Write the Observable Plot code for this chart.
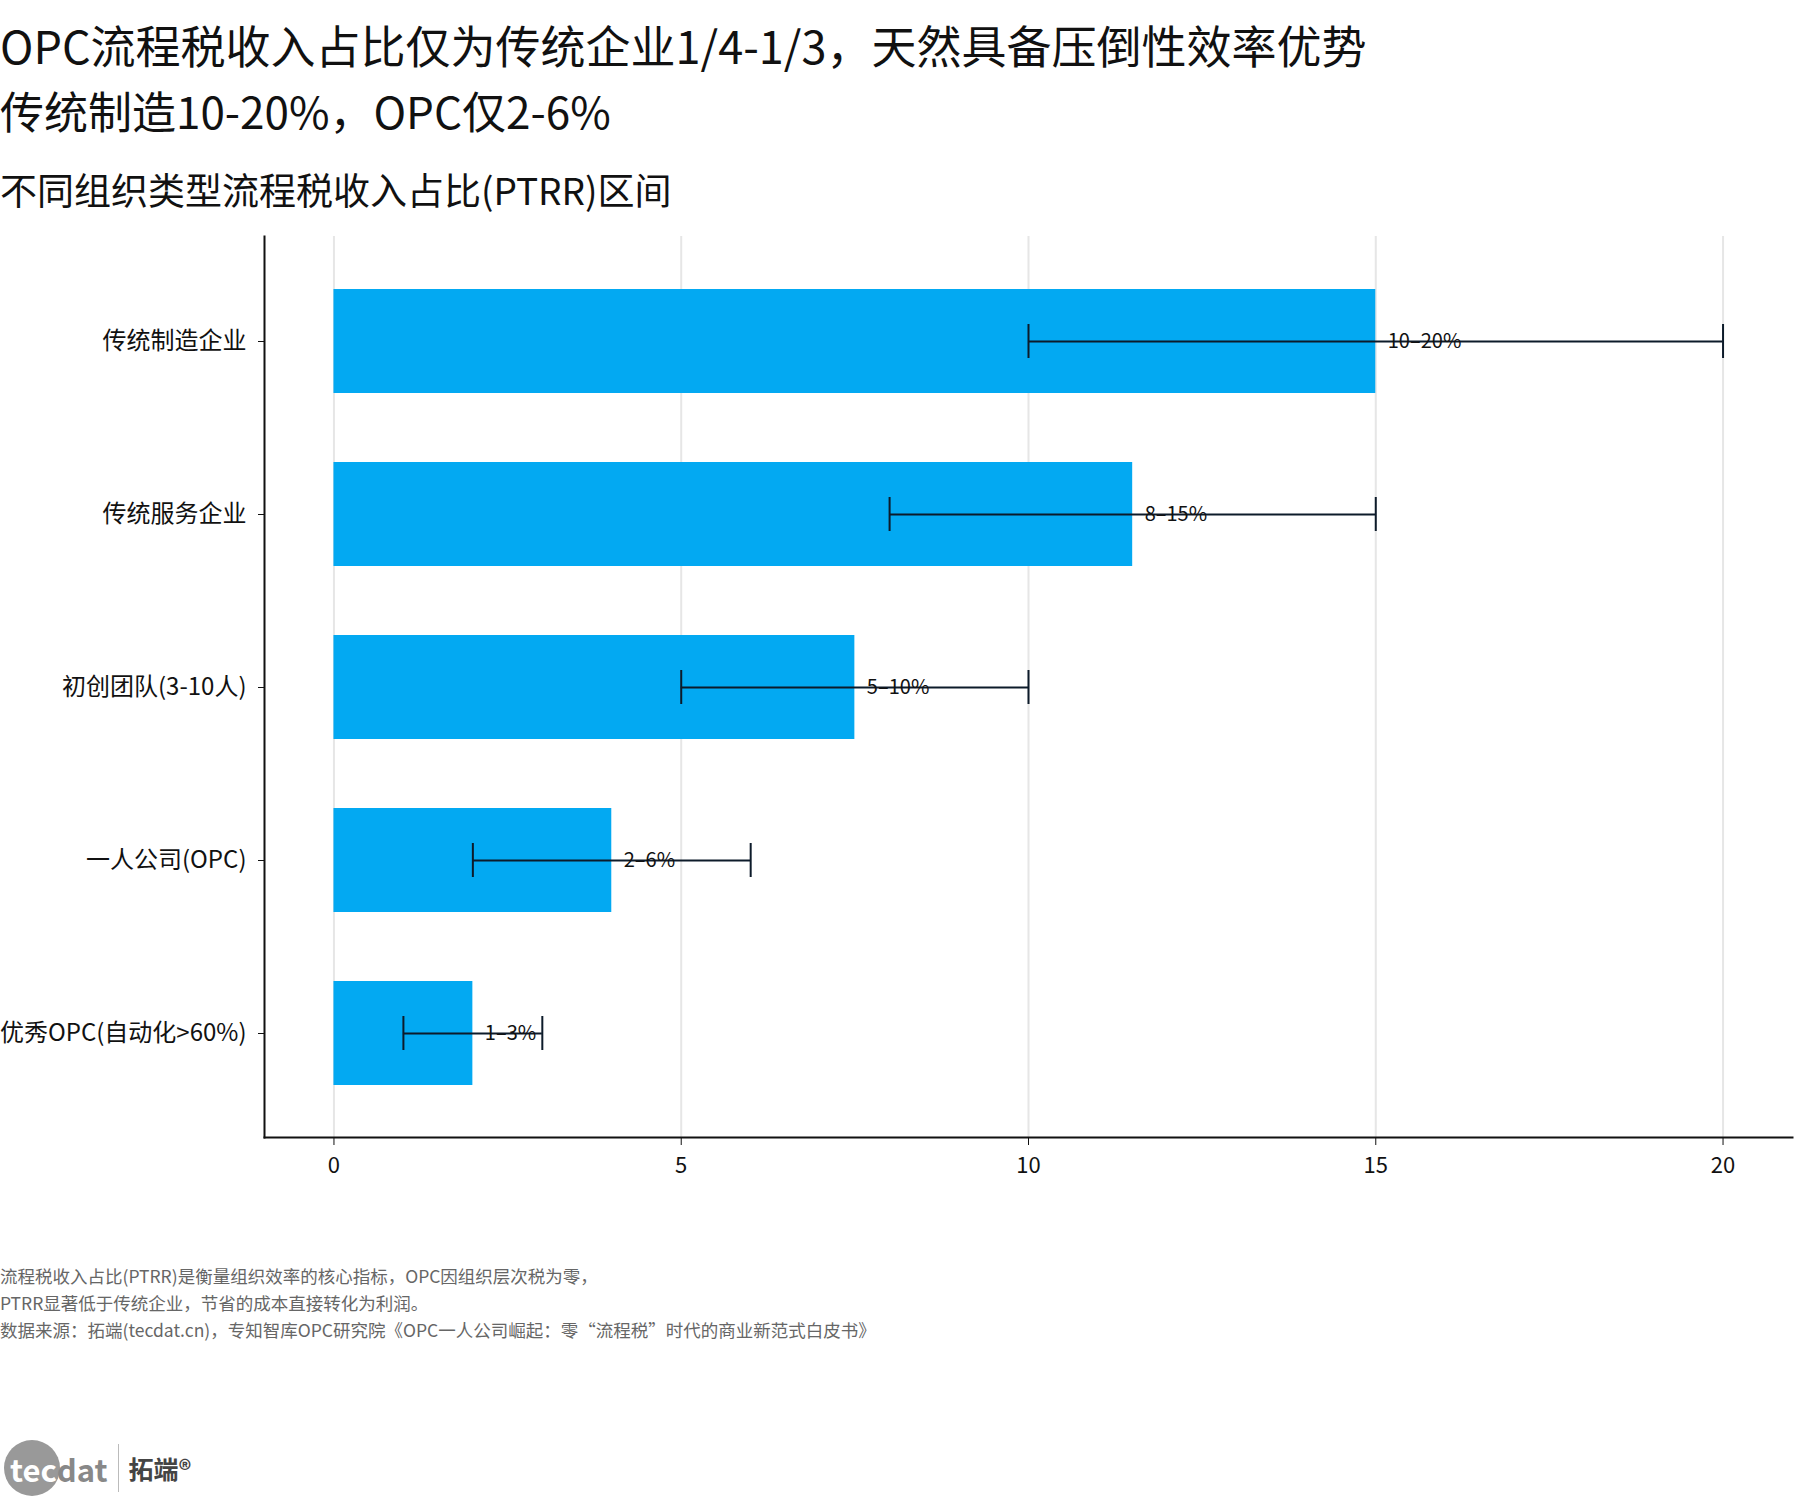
<!DOCTYPE html>
<html><head><meta charset="utf-8">
<script src="https://cdn.jsdelivr.net/npm/d3@7"></script>
<script src="https://cdn.jsdelivr.net/npm/@observablehq/plot@0.6"></script>
<style>
body{margin:0;background:#fff;font-family:"Noto Sans CJK SC","Noto Sans",sans-serif;color:#111;}
#wrap{position:relative;width:1800px;height:1500px;}
.t{position:absolute;left:0;white-space:nowrap;}
</style></head>
<body><div id="wrap">
<div class="t" style="top:12px;font-size:45px;">OPC流程税收入占比仅为传统企业1/4-1/3，天然具备压倒性效率优势</div>
<div class="t" style="top:78px;font-size:44px;">传统制造10-20%，OPC仅2-6%</div>
<div class="t" style="top:162px;font-size:37px;">不同组织类型流程税收入占比(PTRR)区间</div>
<div id="chart" style="position:absolute;top:197px;left:-3px;"></div>
<div class="t" style="top:1262px;font-size:17.5px;color:#666;line-height:27px;">流程税收入占比(PTRR)是衡量组织效率的核心指标，OPC因组织层次税为零，<br>PTRR显著低于传统企业，节省的成本直接转化为利润。<br>数据来源：拓端(tecdat.cn)，专知智库OPC研究院《OPC一人公司崛起：零“流程税”时代的商业新范式白皮书》</div>
<div class="t" style="top:1440px;left:4px;display:flex;align-items:center;">
  <span style="display:inline-block;width:56px;height:56px;border-radius:50%;background:#999;"></span>
  <span style="margin-left:-50px;font-size:31px;color:#fff;font-weight:bold;">tec</span><span style="font-size:31px;color:#888;font-weight:bold;">dat</span>
  <span style="display:inline-block;width:1px;height:48px;background:#bbb;margin:0 10px;"></span>
  <span style="font-size:25px;font-weight:bold;color:#444;">拓端®</span>
</div>
</div>
<script>
const categories=["传统制造企业","传统服务企业","初创团队(3-10人)","一人公司(OPC)","优秀OPC(自动化>60%)"];
const values=[15,11.5,7.5,4,2];
const lows=[10,8,5,2,1];
const highs=[20,15,10,6,3];
const labels=["10–20%","8–15%","5–10%","2–6%","1–3%"];
const data=categories.map((c,i)=>({name:c,value:values[i],lo:lows[i],hi:highs[i],label:labels[i]}));
const chart=Plot.plot({
  width:1800,height:1020,marginTop:39,marginBottom:80,marginLeft:267,marginRight:5,
  style:{fontFamily:"'Noto Sans CJK SC',sans-serif",fontSize:"22px",color:"#111"},
  x:{domain:[-1,21],ticks:[0,5,10,15,20],label:null,grid:false},
  y:{domain:categories,paddingInner:0.4,paddingOuter:0.2,insetTop:16,insetBottom:16,label:null},
  marks:[
    Plot.ruleX([0,5,10,15,20],{stroke:"#e6e6e6",strokeWidth:2}),
    Plot.barX(data,{x:"value",y:"name",fill:"#03A9F2"}),
    Plot.ruleY(data,{y:"name",x1:"lo",x2:"hi",stroke:"#0d1b2a",strokeWidth:2}),
    Plot.tickX(data,{x:"lo",y:"name",stroke:"#0d1b2a",strokeWidth:2,insetTop:35,insetBottom:35}),
    Plot.tickX(data,{x:"hi",y:"name",stroke:"#0d1b2a",strokeWidth:2,insetTop:35,insetBottom:35}),
    Plot.text(data,{x:"value",y:"name",text:"label",textAnchor:"start",dx:12,fontSize:20,fill:"#111"}),
    Plot.axisX({ticks:[0,5,10,15,20],tickSize:8,tickPadding:12,fontSize:22,stroke:"#111"}),
    Plot.axisY({tickSize:6,tickPadding:12,fontSize:24}),
    Plot.frame({anchor:"left",stroke:"#111",strokeWidth:2}),
    Plot.frame({anchor:"bottom",stroke:"#111",strokeWidth:2})
  ]
});
document.getElementById("chart").appendChild(chart);
</script>
</body></html>
